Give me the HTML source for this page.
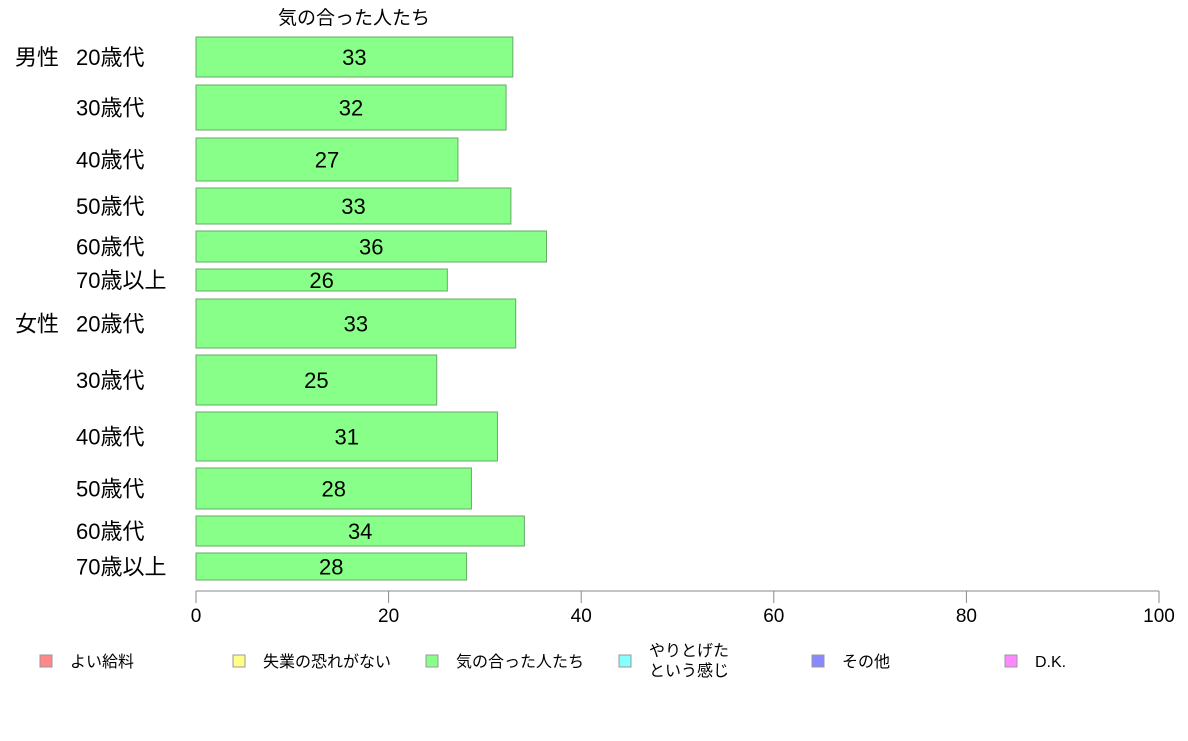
<!DOCTYPE html>
<html><head><meta charset="utf-8"><style>
body{margin:0;background:#fff;width:1188px;height:736px;overflow:hidden}
svg{font-family:"Liberation Sans","Noto Sans CJK JP",sans-serif}
</style></head><body>
<svg id="chart" width="1188" height="736">
<text x="354" y="24" font-size="19" text-anchor="middle">気の合った人たち</text>
<g id="bars"></g>
<g id="axis"></g>
<g id="legend"></g>
</svg>
<script>
const categories=["男性 20歳代","30歳代","40歳代","50歳代","60歳代","70歳以上","女性 20歳代","30歳代","40歳代","50歳代","60歳代","70歳以上"];
const values=[32.9,32.2,27.2,32.7,36.4,26.1,33.2,25.0,31.3,28.6,34.1,28.1];
const printed=["33","32","27","33","36","26","33","25","31","28","34","28"];
const ticks=[0,20,40,60,80,100];
const legendLabels=[["よい給料"],["失業の恐れがない"],["気の合った人たち"],["やりとげた","という感じ"],["その他"],["D.K."]];
const legendColors=["#ff8888","#ffff88","#88ff88","#88ffff","#8888ff","#ff88ff"];
const rowTop=[37,85,138,188,231,269,299,355,412,468,516,553];
const rowBot=[77,130,181,224,262,291,348,405,461,509,546,580];
const NS="http://www.w3.org/2000/svg";
const x=v=>196+v*9.63;
function mk(t,a,p){const e=document.createElementNS(NS,t);for(const k in a)e.setAttribute(k,a[k]);p.appendChild(e);return e;}
const bars=document.getElementById("bars");
values.forEach((v,i)=>{
  const r=mk("rect",{x:x(0),y:rowTop[i],width:x(v)-x(0),height:rowBot[i]-rowTop[i],fill:"#88ff88",stroke:"#66aa66","stroke-width":1},bars);
  
  
  const cy=(rowTop[i]+rowBot[i])/2;
  const t=mk("text",{x:(x(0)+x(v))/2,y:cy+8,"font-size":22,"text-anchor":"middle"},bars);t.textContent=printed[i];
  
  
  const c=categories[i];
  let l;
  if(c.includes(" ")){const [a,b]=c.split(" ");
    const g=mk("text",{x:15,y:cy+8,"font-size":22},bars);g.textContent=a;
    
    
    l=mk("text",{x:76,y:cy+8,"font-size":22},bars);l.textContent=b;}
  else{l=mk("text",{x:76,y:cy+8,"font-size":22},bars);l.textContent=c;}
  
  
});
const ax=document.getElementById("axis");
const al=mk("line",{x1:x(0),x2:x(100),y1:591,y2:591,stroke:"#888"},ax);


ticks.forEach(t=>{
  const tl=mk("line",{x1:x(t),x2:x(t),y1:591,y2:603,stroke:"#888"},ax);
  
  
  const tx=mk("text",{x:x(t),y:622,"font-size":19,"text-anchor":"middle"},ax);tx.textContent=t;
  
  
});
const lg=document.getElementById("legend");
legendLabels.forEach((lab,i)=>{
  const bx=40+i*193;
  const s=mk("rect",{x:bx,y:655,width:12,height:12,fill:legendColors[i],stroke:"#999"},lg);
  
  
  lab.forEach((ln,j)=>{
    const ty=lab.length>1?656+j*20:667;
    const t=mk("text",{x:bx+30,y:ty,"font-size":16},lg);t.textContent=ln;
    
    
  });
});
</script>
</body></html>
